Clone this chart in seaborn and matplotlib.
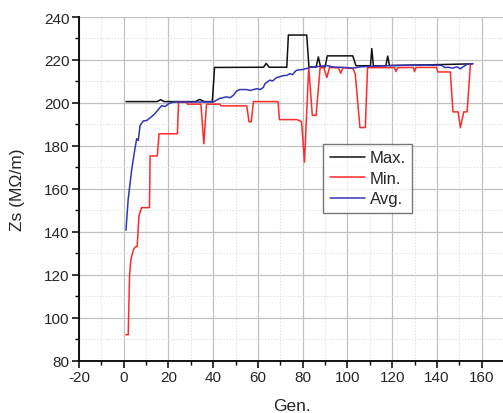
import numpy as np
import pandas as pd
import matplotlib
matplotlib.use("Agg")
import matplotlib.pyplot as plt
import seaborn as sns
from matplotlib.ticker import MultipleLocator, AutoMinorLocator

# ---- data ----
max_gen = [1, 15, 16.5, 18, 32, 34, 36, 39.6, 40.6, 62.5, 63.7, 65, 72.9, 73.6, 81.8, 82.8, 86, 87, 88, 90, 91,
           102.4, 103.8, 110.3, 110.9, 111.6, 117.2, 118, 118.8, 140, 156]
max_val = [200.6, 200.6, 201.5, 200.6, 200.6, 201.6, 200.6, 200.6, 216.5, 216.6, 218.4, 216.6, 216.6, 231.6, 231.6,
           216.7, 216.7, 221.4, 216.7, 216.7, 221.9, 221.9, 217.3, 217.3, 225.3, 217.3, 217.3, 221.8, 217.4, 217.8, 218.2]

min_gen = [1, 2, 2.6, 3.2, 4.3, 5.2, 6, 6.8, 8, 11.5, 11.8, 15, 15.8, 24, 24.5, 28, 28.5, 34.5, 35.8, 37, 43, 43.5,
           55, 56, 57, 58, 69, 69.6, 77.5, 79.5, 80.8, 82.7, 84.3, 86, 87.8, 89.5, 90.8, 92, 96, 97, 98, 102.5, 103.5,
           105.6, 108, 109, 121, 121.7, 122.5, 129.5, 130, 130.7, 139.8, 140.5, 146, 147.2, 149.5, 150.5, 152, 153.5,
           155, 156]
min_val = [92, 92, 119.5, 127, 131.5, 133, 133, 147.5, 151.2, 151.2, 175.3, 175.3, 185.6, 185.6, 200.4, 200.4, 199.4,
           199.4, 181, 199.4, 199.4, 198.6, 198.6, 191.2, 191.2, 200.6, 200.6, 192.2, 192.2, 191.2, 172.4, 216.7, 194.2,
           194.2, 216.5, 216.3, 211.8, 216.5, 216.3, 213.8, 216.4, 216.0, 213.5, 188.5, 188.5, 216.4, 216.4, 214.6,
           216.4, 216.5, 214.6, 216.5, 216.5, 214.4, 214.4, 195.8, 195.8, 188.5, 195.8, 195.8, 218.2, 218.2]

avg_gen = [1, 2, 3.6, 5, 5.8, 6.5, 7.3, 8.8, 10.3, 12.5, 14, 15.5, 17, 18.5, 20, 22.3, 40, 43, 46, 47.5, 49, 50.5, 52,
           55, 56.5, 59.5, 61, 62.4, 63.2, 65.4, 66.5, 68.4, 71.4, 72.9, 74.4, 75.5, 76.6, 77.3, 80.3, 83.3, 90.7, 93.7,
           97, 102.5, 106, 115.3, 125, 135, 142.2, 143.6, 145, 147, 149, 150.5, 152, 153.6, 156]
avg_val = [140.7, 155.3, 169.3, 178.6, 183.3, 182.5, 189.5, 191.6, 191.8, 193.6, 195, 197, 198.7, 198.3, 199.6, 200.4,
           200.4, 202.1, 202.8, 202.4, 203.5, 205.6, 206.2, 206.2, 205.8, 206.6, 206.2, 207.2, 209, 210.6, 210.2, 211.8,
           212.7, 212.8, 213.6, 213.2, 214.6, 215.2, 215.6, 216.5, 217.4, 216.7, 216.6, 216.2, 216.8, 217.2, 217.5,
           217.6, 217.5, 216.4, 216.6, 216.2, 216.8, 215.9, 217, 218, 218.3]

series = [("Max.", max_gen, max_val, "#111111"),
          ("Min.", min_gen, min_val, "#ff2a2a"),
          ("Avg.", avg_gen, avg_val, "#3434b8")]

# ---- style ----
sns.set_style("white")
plt.rcParams["font.family"] = ["Liberation Sans", "DejaVu Sans"]
plt.rcParams["axes.unicode_minus"] = False

fig = plt.figure(figsize=(5.03, 4.14), dpi=100)
ax = fig.add_axes([79 / 503, 1 - 361.5 / 414, 425 / 503, (361.5 - 18) / 414])

for name, g, v, c in series:
    df = pd.DataFrame({"Gen.": g, "Zs": v})
    sns.lineplot(data=df, x="Gen.", y="Zs", ax=ax, color=c, lw=1.1, label=name,
                 estimator=None, sort=False)

ax.set_xlim(-20, 170)
ax.set_ylim(80, 240)
ax.xaxis.set_major_locator(MultipleLocator(20))
ax.yaxis.set_major_locator(MultipleLocator(20))
ax.xaxis.set_minor_locator(AutoMinorLocator(2))
ax.yaxis.set_minor_locator(AutoMinorLocator(2))

ax.grid(which="major", color="#c0c0c0", lw=0.9, ls="-")
ax.grid(which="minor", color="#dcdcdc", lw=0.8, ls=":")
ax.set_axisbelow(True)

for s in ["top", "right"]:
    ax.spines[s].set_visible(False)
for s in ["left", "bottom"]:
    ax.spines[s].set_color("black")
    ax.spines[s].set_linewidth(1.3)

ax.tick_params(which="major", direction="out", length=5, width=1.1, color="black",
               labelsize=11, pad=2, left=True, bottom=True)
ax.tick_params(which="minor", direction="out", length=3, width=1.0, color="black",
               left=True, bottom=True)

ax.set_xlabel("Gen.", fontsize=12.5)
ax.set_ylabel("Zs (MΩ/m)", fontsize=12.5)
ax.xaxis.set_label_coords(0.5, -0.108)
ax.yaxis.set_label_coords(-0.127, 0.5)

leg = ax.legend(loc="upper left", bbox_to_anchor=(0.574, 0.631), fontsize=12,
                frameon=True, fancybox=False, handlelength=2.1, handletextpad=0.3,
                labelspacing=0.33, borderpad=0.4, borderaxespad=0)
leg.get_frame().set_edgecolor("#555555")
leg.get_frame().set_linewidth(1.0)

fig.savefig("out.png", dpi=100)
